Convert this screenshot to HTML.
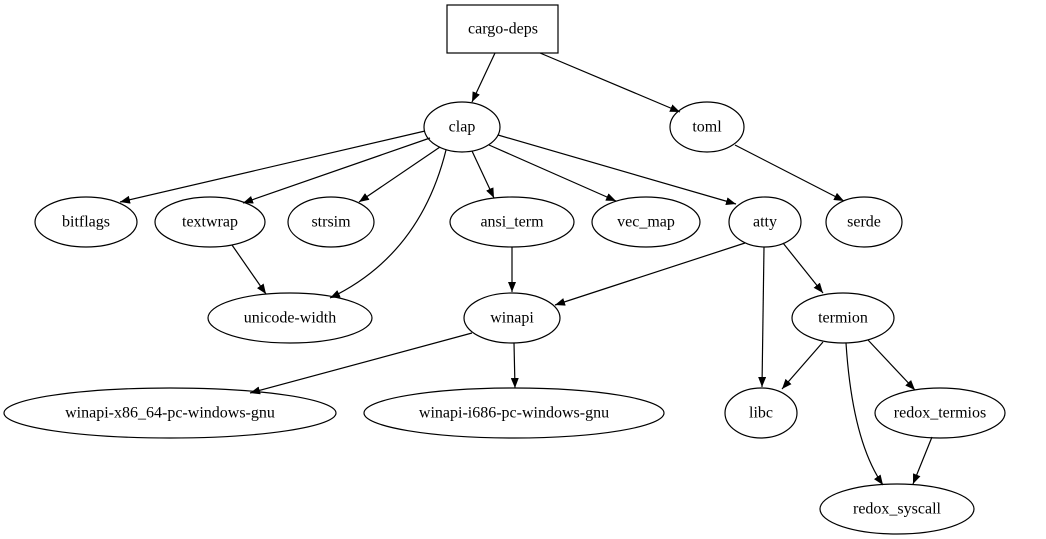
<!DOCTYPE html>
<html><head><meta charset="utf-8"><style>
html,body{margin:0;padding:0;background:#fff;}
svg{display:block;}
text{font-family:"Liberation Serif",serif;font-size:16px;text-anchor:middle;dominant-baseline:central;fill:#000;}
ellipse,rect{fill:none;stroke:#000;stroke-width:1.2;}
.e{fill:none;stroke:#000;stroke-width:1.2;marker-end:url(#a);}
</style></head><body>
<svg width="1046" height="539" viewBox="0 0 1046 539" xmlns="http://www.w3.org/2000/svg">
<defs><marker id="a" markerUnits="userSpaceOnUse" markerWidth="11" markerHeight="8" refX="10" refY="4" orient="auto"><path d="M0,0 L10,4 L0,8 z" fill="#000"/></marker></defs>
<rect x="447" y="5" width="111" height="48"/><text x="503" y="29">cargo-deps</text>
<ellipse cx="462" cy="127" rx="38" ry="25"/><text x="462" y="127">clap</text>
<ellipse cx="707" cy="127" rx="37" ry="25"/><text x="707" y="127">toml</text>
<ellipse cx="86" cy="222" rx="51" ry="25"/><text x="86" y="222">bitflags</text>
<ellipse cx="210" cy="222" rx="55" ry="25"/><text x="210" y="222">textwrap</text>
<ellipse cx="331" cy="222" rx="43" ry="25"/><text x="331" y="222">strsim</text>
<ellipse cx="512" cy="222" rx="62" ry="25"/><text x="512" y="222">ansi_term</text>
<ellipse cx="646" cy="222" rx="54" ry="25"/><text x="646" y="222">vec_map</text>
<ellipse cx="765" cy="222" rx="36" ry="25"/><text x="765" y="222">atty</text>
<ellipse cx="864" cy="222" rx="38" ry="25"/><text x="864" y="222">serde</text>
<ellipse cx="290" cy="318" rx="82" ry="25"/><text x="290" y="318">unicode-width</text>
<ellipse cx="512" cy="318" rx="48" ry="25"/><text x="512" y="318">winapi</text>
<ellipse cx="843" cy="318" rx="51" ry="25"/><text x="843" y="318">termion</text>
<ellipse cx="170" cy="413" rx="166" ry="25"/><text x="170" y="413">winapi-x86_64-pc-windows-gnu</text>
<ellipse cx="514" cy="413" rx="150" ry="25"/><text x="514" y="413">winapi-i686-pc-windows-gnu</text>
<ellipse cx="761" cy="413" rx="36" ry="25"/><text x="761" y="413">libc</text>
<ellipse cx="940" cy="413" rx="65" ry="25"/><text x="940" y="413">redox_termios</text>
<ellipse cx="897" cy="509" rx="77" ry="25"/><text x="897" y="509">redox_syscall</text>
<path class="e" d="M495,53 L472,102"/>
<path class="e" d="M540,53 L680,112"/>
<path class="e" d="M425,131 L120,202"/>
<path class="e" d="M430,138 L243,203"/>
<path class="e" d="M440,147 L359,202"/>
<path class="e" d="M446,150 Q420,255 330,298"/>
<path class="e" d="M472,151 L494,198"/>
<path class="e" d="M489,145 L616,201"/>
<path class="e" d="M498,135 L736,204"/>
<path class="e" d="M735,145 L844,201"/>
<path class="e" d="M232,245 L266,294"/>
<path class="e" d="M512,247 L512,292"/>
<path class="e" d="M745,243 L555,305"/>
<path class="e" d="M764,247 L762,387"/>
<path class="e" d="M783,243 L823,293"/>
<path class="e" d="M823,342 L782,389"/>
<path class="e" d="M846,343 C850,405 862,455 883,485"/>
<path class="e" d="M868,340 L915,390"/>
<path class="e" d="M472,333 L250,393"/>
<path class="e" d="M514,343 L515,388"/>
<path class="e" d="M932,437 L913,484"/>
</svg>
</body></html>
